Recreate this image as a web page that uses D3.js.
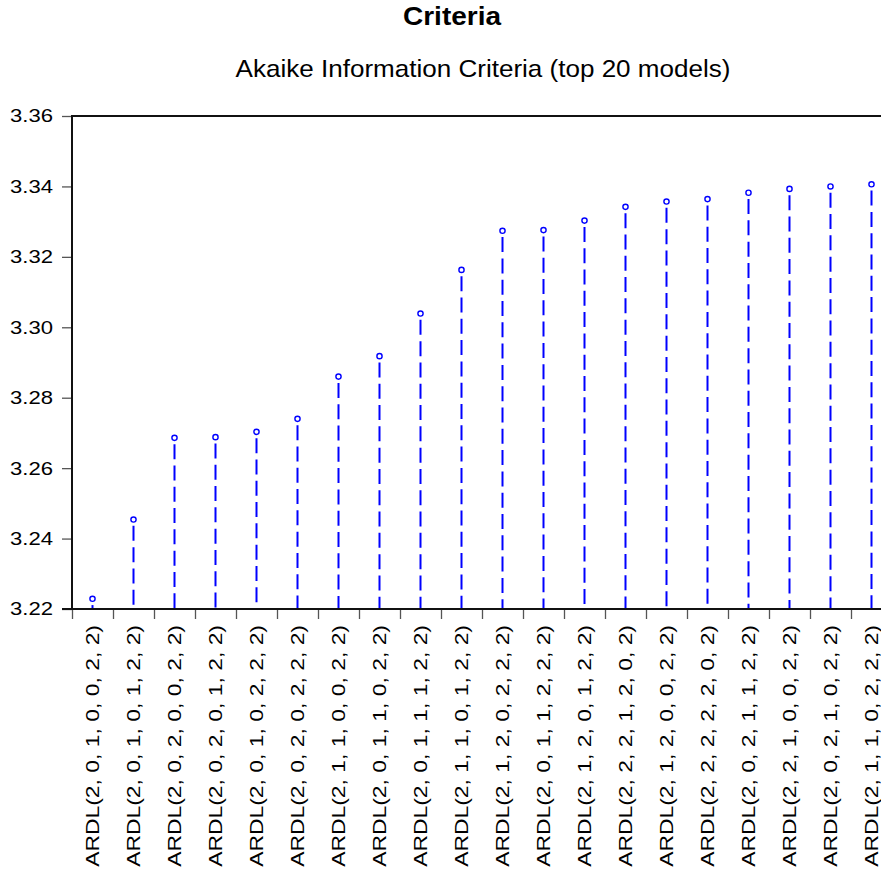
<!DOCTYPE html>
<html>
<head>
<meta charset="utf-8">
<script src="https://cdn.jsdelivr.net/npm/d3@7"></script>
<style>
  html, body { margin: 0; padding: 0; background: #fff; }
  svg { display: block; }
  text { font-family: "Liberation Sans", Arial, sans-serif; fill: #000; }
</style>
</head>
<body>
<svg id="chart" width="881" height="872"></svg>
<script>
// ---------- data ----------
const chartTitle = "Criteria";
const chartSubtitle = "Akaike Information Criteria (top 20 models)";
const categories = [
  "ARDL(2, 0, 1, 0, 0, 2, 2)",
  "ARDL(2, 0, 1, 0, 1, 2, 2)",
  "ARDL(2, 0, 2, 0, 0, 2, 2)",
  "ARDL(2, 0, 2, 0, 1, 2, 2)",
  "ARDL(2, 0, 1, 0, 2, 2, 2)",
  "ARDL(2, 0, 2, 0, 2, 2, 2)",
  "ARDL(2, 1, 1, 0, 0, 2, 2)",
  "ARDL(2, 0, 1, 1, 0, 2, 2)",
  "ARDL(2, 0, 1, 1, 1, 2, 2)",
  "ARDL(2, 1, 1, 0, 1, 2, 2)",
  "ARDL(2, 1, 2, 0, 2, 2, 2)",
  "ARDL(2, 0, 1, 1, 2, 2, 2)",
  "ARDL(2, 1, 2, 0, 1, 2, 2)",
  "ARDL(2, 2, 2, 1, 2, 0, 2)",
  "ARDL(2, 1, 2, 0, 0, 2, 2)",
  "ARDL(2, 2, 2, 2, 2, 0, 2)",
  "ARDL(2, 0, 2, 1, 1, 2, 2)",
  "ARDL(2, 2, 1, 0, 0, 2, 2)",
  "ARDL(2, 0, 2, 1, 0, 2, 2)",
  "ARDL(2, 1, 1, 0, 2, 2, 2)"
];
const aicValues = [
  3.2229, 3.2454, 3.2686, 3.2688, 3.2703, 3.2740, 3.2860, 3.2918, 3.3039, 3.3163,
  3.3274, 3.3276, 3.3303, 3.3342, 3.3357, 3.3364, 3.3382, 3.3393, 3.3400, 3.3406
];
const yTicks = [3.22, 3.24, 3.26, 3.28, 3.30, 3.32, 3.34, 3.36];
const yTickLabels = ["3.22", "3.24", "3.26", "3.28", "3.30", "3.32", "3.34", "3.36"];

// ---------- layout ----------
const plot = { left: 72, top: 116, bottom: 609, step: 41 };
const plotRight = plot.left + plot.step * categories.length;

const svg = d3.select("#chart");

const x = d3.scaleBand().domain(categories).range([plot.left, plotRight]).padding(0);
const xEdge = d3.scaleLinear().domain([0, categories.length]).range([plot.left, plotRight]);
const y = d3.scaleLinear().domain([3.22, 3.36]).range([plot.bottom, plot.top]);

const stemColor = "#0000ff";
const tickColor = "#555";

// helper: stretch a text horizontally (in its own frame) to a target width
function stretchText(sel, target, base) {
  sel.each(function(d, i) {
    const w = this.getComputedTextLength();
    const s = target / w;
    const t = typeof base === "function" ? base(d, i) : base;
    d3.select(this).attr("transform", `${t} scale(${s},1)`);
  });
}

// Titles
svg.append("text")
  .attr("text-anchor", "middle")
  .attr("font-size", 25.5).attr("font-weight", "bold")
  .text(chartTitle)
  .call(stretchText, 98, "translate(452,24.5)");

svg.append("text")
  .attr("text-anchor", "middle")
  .attr("font-size", 24)
  .text(chartSubtitle)
  .call(stretchText, 495, "translate(483,77)");

// Y axis ticks
const yAxis = svg.append("g")
  .attr("transform", `translate(${plot.left},0)`)
  .call(d3.axisLeft(y).tickValues(yTicks).tickFormat("").tickSize(10));
yAxis.select(".domain").remove();
yAxis.selectAll(".tick line").attr("stroke", tickColor).attr("stroke-width", 1.3);

// Y tick labels
svg.append("g").selectAll("text")
  .data(yTicks)
  .join("text")
  .attr("text-anchor", "end")
  .attr("dy", "0.36em")
  .attr("font-size", 18)
  .text((d, i) => yTickLabels[i])
  .call(stretchText, 43, d => `translate(${plot.left - 19},${y(d)})`);

// X axis edge ticks
const xAxis = svg.append("g")
  .attr("transform", `translate(0,${plot.bottom})`)
  .call(d3.axisBottom(xEdge).tickValues(d3.range(0, categories.length + 1))
    .tickFormat("").tickSize(10));
xAxis.select(".domain").remove();
xAxis.selectAll(".tick line").attr("stroke", tickColor).attr("stroke-width", 1.3);

// Frame lines (left, top, bottom)
svg.append("path")
  .attr("d", d3.line()([[plot.left, plot.bottom], [plot.left, plot.top], [plotRight, plot.top]]))
  .attr("fill", "none").attr("stroke", "#111").attr("stroke-width", 2);
svg.append("path")
  .attr("d", d3.line()([[plot.left - 10, plot.bottom], [plotRight, plot.bottom]]))
  .attr("fill", "none").attr("stroke", "#111").attr("stroke-width", 2);

// X labels (rotated)
const cx = d => x(d) + x.bandwidth() / 2;
svg.append("g").selectAll("text")
  .data(categories)
  .join("text")
  .attr("text-anchor", "end")
  .attr("font-size", 18)
  .text(d => d)
  .call(stretchText, 242, d => `translate(${cx(d) + 6.8},625) rotate(-90)`);

// Stems
const data = categories.map((c, i) => ({ c, v: aicValues[i] }));
svg.append("g").selectAll("line")
  .data(data)
  .join("line")
  .attr("x1", d => cx(d.c)).attr("x2", d => cx(d.c))
  .attr("y1", d => y(d.v) + 2).attr("y2", plot.bottom - 1)
  .attr("stroke", stemColor).attr("stroke-width", 2)
  .attr("stroke-dasharray", "15,6.3")
  .attr("stroke-dashoffset", 17);

// Points
svg.append("g").selectAll("circle")
  .data(data)
  .join("circle")
  .attr("cx", d => cx(d.c)).attr("cy", d => y(d.v))
  .attr("r", 2.6)
  .attr("fill", "#fff").attr("stroke", stemColor).attr("stroke-width", 1.4);
</script>
</body>
</html>
